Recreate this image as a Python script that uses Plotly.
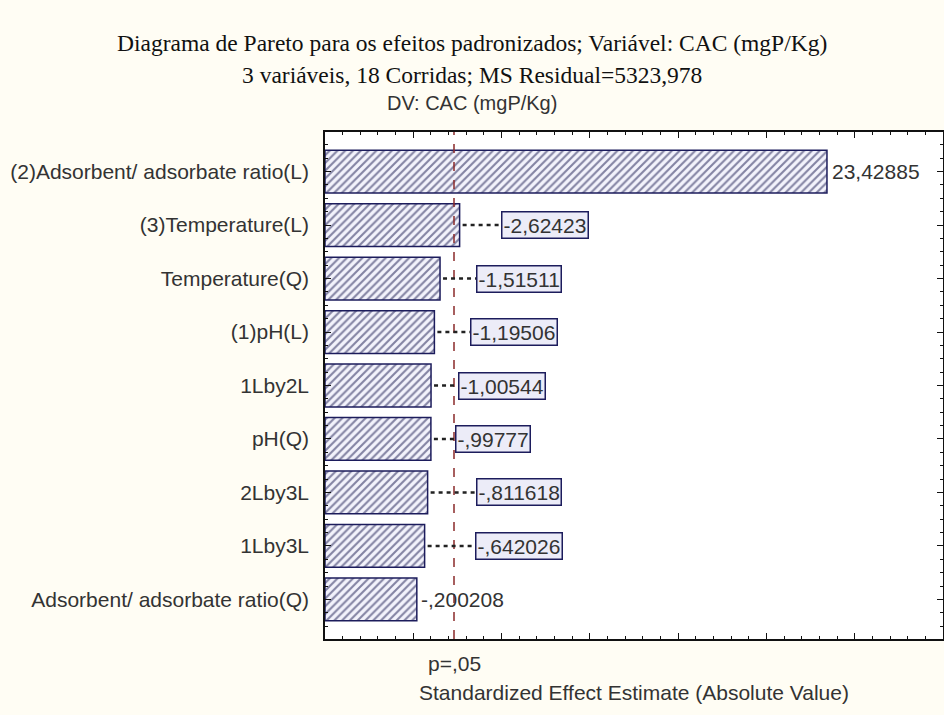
import plotly.graph_objects as go

# ---------------- data ----------------
FACTORS = [
    "(2)Adsorbent/ adsorbate ratio(L)",
    "(3)Temperature(L)",
    "Temperature(Q)",
    "(1)pH(L)",
    "1Lby2L",
    "pH(Q)",
    "2Lby3L",
    "1Lby3L",
    "Adsorbent/ adsorbate ratio(Q)",
]
EFFECTS = [23.42885, -2.62423, -1.51511, -1.19506, -1.00544,
           -0.99777, -0.811618, -0.642026, -0.200208]
T_CRIT = 2.306          # p = .05 reference line
P_LABEL = "p=,05"
X_MIN, X_MAX = -5, 30   # Statistica axis range

# ---------------- styling / layout ----------------
W, H = 944, 715
ML, MR, MT, MB = 325, 1, 132, 76
BOXED = [False, True, True, True, True, True, True, True, False]
LABEL_GAP = [3, 41, 36, 36, 27, 24, 48, 50, 2]   # px between bar end and label
NAVY = "#1c1c5c"
TXT = "#333333"
BG = "#fffdf4"
SANS = "Liberation Sans, Arial, sans-serif"
SERIF = "Liberation Serif, Times New Roman, serif"
FS = 21


def fmt(v):
    s = f"{abs(v)}"
    if s.startswith("0."):
        s = s[1:]
    s = s.replace(".", ",")
    return ("-" if v < 0 else "") + s


mags = [abs(v) for v in EFFECTS]
ypos = list(range(len(FACTORS)))

fig = go.Figure()
fig.add_trace(go.Bar(
    orientation="h",
    y=ypos,
    x=[m - X_MIN for m in mags],
    base=[X_MIN] * len(mags),
    width=0.8,
    marker=dict(
        color="#f3f3fc",
        line=dict(color=NAVY, width=1.5),
        pattern=dict(shape="/", fgcolor="#14144a", bgcolor="#f3f3fc",
                     size=5.5, solidity=0.38),
    ),
    hovertext=FACTORS,
    showlegend=False,
))

shapes = []
annotations = []

# p = .05 line
shapes.append(dict(type="line", xref="x", yref="paper", x0=T_CRIT, x1=T_CRIT,
                   y0=0, y1=1, line=dict(color="#8b2a2a", width=1.5, dash="dash"),
                   layer="above"))

for i, (m, e) in enumerate(zip(mags, EFFECTS)):
    gap = LABEL_GAP[i]
    if BOXED[i]:
        shapes.append(dict(type="line", xref="x", yref="y", xsizemode="pixel",
                           xanchor=m, x0=3, x1=gap, y0=i, y1=i,
                           line=dict(color="#222222", width=2.5, dash="4px,4px")))
        annotations.append(dict(
            x=m, y=i, xref="x", yref="y", xanchor="left", yanchor="middle",
            xshift=gap, text=fmt(e), showarrow=False,
            font=dict(family=SANS, size=FS, color=TXT),
            bgcolor="#ececf8", bordercolor=NAVY, borderwidth=1.5, borderpad=1,
        ))
    else:
        annotations.append(dict(
            x=m, y=i, xref="x", yref="y", xanchor="left", yanchor="middle",
            xshift=gap, text=fmt(e), showarrow=False,
            font=dict(family=SANS, size=FS, color=TXT),
        ))

# p label under axis
annotations.append(dict(x=T_CRIT, y=0, xref="x", yref="paper", yshift=-24,
                        yanchor="middle", xanchor="center", text=P_LABEL,
                        showarrow=False, font=dict(family=SANS, size=FS, color=TXT)))
# x axis title
annotations.append(dict(x=0.5, y=0, xref="paper", yref="paper", yshift=-53,
                        yanchor="middle", xanchor="center",
                        text="Standardized Effect Estimate (Absolute Value)",
                        showarrow=False, font=dict(family=SANS, size=FS, color=TXT)))

# titles
cx = (W / 2 - ML) / (W - ML - MR)
annotations.append(dict(x=cx, y=1, xref="paper", yref="paper", yshift=89,
                        yanchor="middle", xanchor="center",
                        text="Diagrama de Pareto para os efeitos padronizados; Variável: CAC (mgP/Kg)",
                        showarrow=False, font=dict(family=SERIF, size=23.5, color="#111111")))
annotations.append(dict(x=cx, y=1, xref="paper", yref="paper", yshift=57,
                        yanchor="middle", xanchor="center",
                        text="3 variáveis, 18 Corridas; MS Residual=5323,978",
                        showarrow=False, font=dict(family=SERIF, size=23.5, color="#111111")))
annotations.append(dict(x=cx, y=1, xref="paper", yref="paper", yshift=29,
                        yanchor="middle", xanchor="center",
                        text="DV: CAC (mgP/Kg)",
                        showarrow=False, font=dict(family=SANS, size=20, color=TXT)))

fig.update_layout(
    width=W, height=H,
    margin=dict(l=ML, r=MR, t=MT, b=MB, pad=0),
    paper_bgcolor=BG,
    plot_bgcolor="#ffffff",
    bargap=0.2,
    shapes=shapes,
    annotations=annotations,
    xaxis=dict(
        range=[X_MIN, X_MAX], showgrid=False, zeroline=False, automargin=False,
        showline=True, linecolor="#111111", linewidth=1.5, mirror="ticks",
        ticks="inside", ticklen=6, tickcolor="#111111", tick0=0, dtick=5,
        showticklabels=False,
        minor=dict(ticks="inside", ticklen=3, dtick=1, tickcolor="#111111"),
    ),
    yaxis=dict(
        range=[len(FACTORS) - 1 + 0.74, -0.74], showgrid=False, zeroline=False,
        automargin=False,
        showline=True, linecolor="#111111", linewidth=1.5, mirror="ticks",
        ticks="inside", ticklen=6, tickcolor="#111111",
        tickvals=ypos, ticktext=FACTORS, ticklabelstandoff=10,
        tickfont=dict(family=SANS, size=FS, color=TXT),
        minor=dict(ticks="inside", ticklen=3, dtick=0.25, tickcolor="#111111"),
    ),
)

fig.write_html(
    "out.html",
    config={"displayModeBar": False},
    post_script="document.body.style.margin='0';document.body.style.overflow='hidden';"
                "document.body.style.background='" + BG + "';",
)
